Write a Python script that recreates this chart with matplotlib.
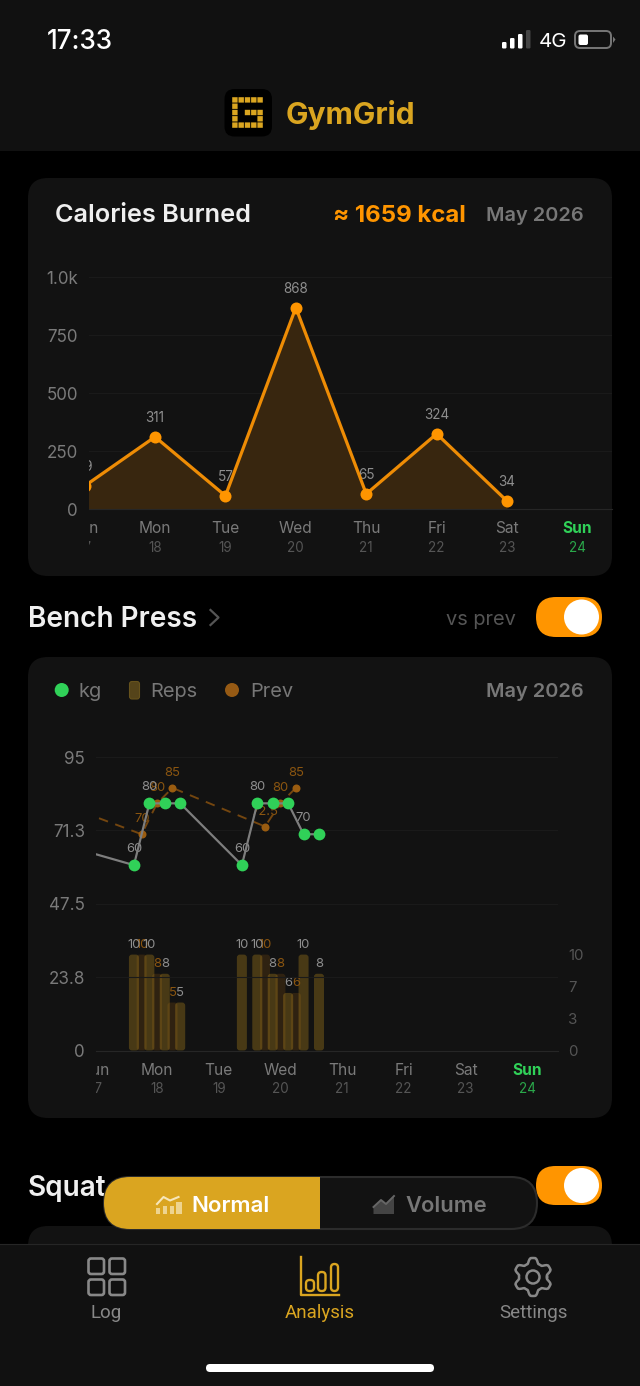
import numpy as np
import matplotlib
matplotlib.use("Agg")
import matplotlib.pyplot as plt
from matplotlib.patches import FancyBboxPatch, Rectangle, Circle, Polygon
from matplotlib.transforms import Bbox

plt.rcParams['font.family'] = ['Inter', 'DejaVu Sans']

W, H = 640, 1386
GOLD = '#DAA520'; ORANGE = '#FF9500'; GREEN = '#30D158'; CARD = '#121212'; BAR = '#111111'

# ---------- data ----------
days = ['Sun', 'Mon', 'Tue', 'Wed', 'Thu', 'Fri', 'Sat', 'Sun']
dates = ['17', '18', '19', '20', '21', '22', '23', '24']
day_idx = [0, 1, 2, 3, 4, 5, 6, 7]

cal_x = [0, 1, 2, 3, 4, 5, 6]
cal_values = [99, 311, 57, 868, 65, 324, 34]
cal_ticks = [0, 250, 500, 750, 1000]
cal_ticklabels = ['0', '250', '500', '750', '1.0k']

kg_x = [-1.125, 0.625, 0.875, 1.125, 1.375, 2.375, 2.625, 2.875, 3.125, 3.375, 3.625]
kg_values = [70, 60, 80, 80, 80, 60, 80, 80, 80, 70, 70]
kg_labels = ['70', '60', '80', '', '', '60', '80', '', '', '70', '']
reps_values = [8, 10, 10, 8, 5, 10, 10, 8, 6, 10, 8]

prev_x = [-1.25, 0.75, 1.0, 1.25, 2.75, 3.0, 3.25]
prev_values = [85, 70, 80, 85, 72.5, 80, 85]
prev_labels = ['85', '70', '80', '85', '72.5', '80', '85']
prev_reps = [8, 10, 8, 5, 10, 8, 6]

kg_ticks = [0, 23.75, 47.5, 71.25, 95]
kg_ticklabels = ['0', '23.8', '47.5', '71.3', '95']
reps_ticks = [0, 3.33, 6.67, 10]
reps_ticklabels = ['0', '3', '7', '10']

fig = plt.figure(figsize=(W / 100, H / 100), dpi=100, facecolor='#000000')

def axpx(x0, y0, x1, y1):
    return fig.add_axes([x0 / W, 1 - y1 / H, (x1 - x0) / W, (y1 - y0) / H])

ui = fig.add_axes([0, 0, 1, 1], zorder=0)
ui.set_xlim(0, W); ui.set_ylim(H, 0); ui.axis('off')

def rrect(x0, y0, x1, y1, r, fc, ec='none', lw=0, z=1, ax=ui):
    p = FancyBboxPatch((x0, y0), x1 - x0, y1 - y0, boxstyle=f'round,pad=0,rounding_size={r}',
                       fc=fc, ec=ec, lw=lw, zorder=z)
    ax.add_patch(p)
    return p

def txt(x, y, s, size, color, weight='normal', ha='left', z=6, family=None):
    return ui.text(x, y + 1.8, s, fontsize=size * 0.72, color=color, fontweight=weight, ha=ha,
                   va='center', zorder=z, family=family or ['Inter', 'DejaVu Sans'])

def toggle(y0, y1, z=3):
    rrect(536, y0, 602, y1, (y1 - y0) / 2, ORANGE, z=z)
    ui.add_patch(Circle((581.5, (y0 + y1) / 2), 17.5, fc='white', ec='none', zorder=z + 1))

# ---------- background panels ----------
ui.add_patch(Rectangle((0, 0), W, 151, fc=BAR, ec='none', zorder=0.5))
rrect(28, 178, 612, 576, 20, CARD)
rrect(28, 657, 612, 1118, 20, CARD)
rrect(28, 1226, 612, 1300, 20, CARD)

# ---------- status bar ----------
txt(47, 40, '17:33', 26, 'white', 'medium')
for x0, top, c in [(502, 42, 'white'), (510, 38, 'white'), (518, 34, 'white'), (526, 30, '#444444')]:
    rrect(x0, top, x0 + 4.5, 48.5, 1.2, c, z=3)
txt(539, 40.5, '4G', 20.5, 'white')
rrect(575, 31, 611, 48, 5, 'none', ec='#777777', lw=1.4, z=3)
rrect(578.5, 34.5, 588, 45, 2, 'white', z=3)
ui.add_patch(Polygon([(613, 36.5), (615.5, 39.5), (613, 43)], fc='#777777', ec='none', zorder=3))

# ---------- logo ----------
rrect(224.5, 89, 272, 136.5, 10, '#000000', z=2)
cells = [(c, 0) for c in range(5)] + [(c, 4) for c in range(5)] + [(0, r) for r in (1, 2, 3)] + \
        [(2, 2), (3, 2), (4, 2), (4, 3)]
for c, r in cells:
    ui.add_patch(Rectangle((232.2 + c * 6.3, 97.2 + r * 6.3), 5.4, 5.4, fc=GOLD, ec='none',
                           zorder=3, snap=False))
txt(286, 113, 'GymGrid', 30, GOLD, 'bold')

# ---------- card headers ----------
txt(55, 214, 'Calories Burned', 25.3, '#EFEFEF', 'semibold')
txt(333, 214, '≈ 1659 kcal', 24, ORANGE, 'bold')
txt(584, 214.5, 'May 2026', 20, '#777777', 'semibold', ha='right')

txt(28, 618, 'Bench Press', 28, '#F0F0F0', 'semibold')
ui.plot([210.5, 218.5, 210.5], [610, 617.5, 625], color='#555555', lw=1.6, zorder=4)
txt(446, 618.5, 'vs prev', 20, '#555555')
toggle(597, 637)

ui.add_patch(Circle((61.7, 690), 7, fc=GREEN, ec='none', zorder=3))
txt(79, 690.5, 'kg', 20, '#777777')
rrect(129.5, 681.5, 139.5, 699, 2.5, '#55441A', ec='#66521C', lw=0.8, z=3)
txt(150, 690.5, 'Reps', 20, '#777777')
ui.add_patch(Circle((232, 690), 7, fc='#965A14', ec='none', zorder=3))
txt(250, 690.5, 'Prev', 20, '#777777')
txt(584, 690.5, 'May 2026', 20, '#777777', 'semibold', ha='right')

# ---------- chart helpers ----------
def style_x(ax, clip_left, label_y_px, base_px, xlim, size_day=15.5):
    """Real tick labels for days in view; the day cut by the left edge as a clipped annotation."""
    box = Bbox([[clip_left, 0], [W, H]])
    ax.set_xticks(day_idx[1:])
    ax.set_xticklabels(days[1:])
    ax.set_xlim(*xlim)
    pad = (label_y_px - base_px - 6) * 0.72
    ax.tick_params(axis='x', length=0, pad=pad, labelsize=size_day * 0.72)
    for i, t in enumerate(ax.get_xticklabels()):
        t.set_color('#7A7A7A')
        if i == len(days) - 2:
            t.set_color(GREEN); t.set_fontweight('bold')
    lead = ax.annotate(days[0], (day_idx[0], 0), xycoords=ax.get_xaxis_transform(), xytext=(0, -pad),
                       textcoords='offset points', ha='center', va='top', fontsize=size_day * 0.72,
                       color='#7A7A7A', annotation_clip=False)
    lead.set_clip_on(True); lead.set_clip_box(box)
    return box

def dates_row(y_px, xs_fn, box):
    for i, d in enumerate(dates):
        t = ui.text(xs_fn(i), y_px, d, fontsize=13.5 * 0.72, ha='center', va='center',
                    color='#2AA84A' if i == len(dates) - 1 else '#555555', zorder=5)
        t.set_clip_box(box); t.set_clip_on(True)

def clean(ax):
    ax.patch.set_visible(False)
    for s in ax.spines.values():
        s.set_visible(False)

# ---------- calories chart ----------
a1 = axpx(89, 277, 612, 509)
clean(a1)
a1.set_ylim(0, 1000)
a1.set_yticks(cal_ticks); a1.set_yticklabels(cal_ticklabels)
a1.tick_params(axis='y', length=0, pad=11 * 0.72, labelsize=17 * 0.72, labelcolor='#7A7A7A')
a1.grid(axis='y', color='#1A1A1A', lw=0.8); a1.set_axisbelow(True)
a1.spines['bottom'].set_visible(True); a1.spines['bottom'].set_color('#262626')
box1 = style_x(a1, 89, 527, 509, (0.0625, 7.49))
dates_row(548, lambda i: 84.6 + 70.4 * i, box1)
a1.fill_between(cal_x, cal_values, 0, color='#38260F', lw=0, zorder=2)
for x, v in zip(cal_x, cal_values):
    t = a1.annotate(str(v), (x, v), xytext=(0, 19 * 0.72), textcoords='offset points', ha='center',
                    va='center', fontsize=13.5 * 0.72, color='#8E8E8E', zorder=2.5,
                    annotation_clip=False)
    t.set_clip_on(True); t.set_clip_box(box1)
a1.plot(cal_x, cal_values, color='#EE8C05', lw=3.2 * 0.72, marker='o', ms=12 * 0.72,
        mfc=ORANGE, mec=ORANGE, mew=0, zorder=3, solid_joinstyle='round')

# ---------- bench press chart ----------
a2 = axpx(96, 757, 558, 1050.5)
r2 = a2.twinx()
a2.set_zorder(2); r2.set_zorder(1)
clean(a2); clean(r2)
a2.set_ylim(0, 95)
r2.set_ylim(0, 30.6)
a2.set_yticks(kg_ticks); a2.set_yticklabels(kg_ticklabels)
a2.tick_params(axis='y', length=0, pad=11 * 0.72, labelsize=17 * 0.72, labelcolor='#7A7A7A')
r2.set_yticks(reps_ticks); r2.set_yticklabels(reps_ticklabels)
r2.tick_params(axis='y', length=0, pad=10 * 0.72, labelsize=15 * 0.72, labelcolor='#555555')
a2.grid(axis='y', color='#1A1A1A', lw=0.8)
a2.spines['bottom'].set_visible(True); a2.spines['bottom'].set_color('#262626')
box2 = style_x(a2, 96, 1069, 1050.5, (0.01, 7.5))
r2.set_xlim(0.01, 7.5)
dates_row(1089, lambda i: 95.4 + 61.67 * i, box2)

bw = 10 / 61.67
asp = 61.67 / 9.6
rad = 3 / 61.67

def bars(ax, xs, vals, color, alpha, z):
    for x, v in zip(xs, vals):
        p = FancyBboxPatch((x - bw / 2, 0), bw, v, boxstyle=f'round,pad=0,rounding_size={rad}',
                           mutation_aspect=asp, fc=color, ec='none', alpha=alpha, zorder=z)
        ax.add_patch(p)

bars(r2, prev_x, prev_reps, '#A8640F', 0.20, 2)
bars(r2, kg_x, reps_values, GOLD, 0.27, 3)

def labels(ax, xs, vals, strs, color, off, z):
    for x, v, s in zip(xs, vals, strs):
        if s:
            t = ax.annotate(s, (x, v), xytext=(0, off * 0.72), textcoords='offset points', ha='center',
                            va='center', fontsize=13 * 0.72, color=color, zorder=z,
                            annotation_clip=False)
            t.set_clip_on(True); t.set_clip_box(box2)

labels(r2, prev_x, prev_reps, [str(v) for v in prev_reps], '#8A5510', 10, 4)
labels(r2, kg_x, reps_values, [str(v) for v in reps_values], '#8E8E8E', 10, 4)
labels(a2, prev_x, prev_values, prev_labels, '#8A5510', 15, 2)
labels(a2, kg_x, kg_values, kg_labels, '#8E8E8E', 16, 2)

a2.plot(prev_x, prev_values, color='#74460F', lw=1.5 * 0.72 + 0.3, ls=(0, (5, 4)), zorder=3)
a2.plot(prev_x, prev_values, ls='none', marker='o', ms=8 * 0.72, mfc='#9A5C10', mew=0, zorder=3.2)
a2.plot(kg_x, kg_values, color='#7E7E7E', lw=2.2 * 0.72, zorder=4)
a2.plot(kg_x, kg_values, ls='none', marker='o', ms=11.8 * 0.72, mfc=GREEN, mew=0, zorder=5)

# ---------- squat row, pill ----------
txt(28, 1187, 'Squat', 28, '#F0F0F0', 'semibold', z=2)
toggle(1166, 1205)
rrect(104, 1177, 537, 1229, 26, CARD, ec='#2C2C2C', lw=1.5, z=7)
gold = rrect(104, 1177, 537, 1229, 26, GOLD, z=7.2)
gold.set_clip_path(Rectangle((104, 1170), 216, 70, transform=ui.transData))
txt(191, 1204, 'Normal', 22.3, 'white', 'semibold', z=8)
txt(405, 1204, 'Volume', 22, '#777777', 'semibold', z=8)
for x0, x1, top in [(156, 160, 1208), (163, 167, 1206), (169.5, 173.5, 1206), (176, 181.5, 1202)]:
    ui.add_patch(Rectangle((x0, top), x1 - x0, 1213.5 - top, fc='#EED48F', ec='none', zorder=8))
ui.plot([157, 163.5, 170, 178.5], [1204, 1197, 1200.5, 1197], color='#F7E6B9', lw=1.5, zorder=8)
ui.add_patch(Polygon([(373.5, 1207), (381, 1200), (386, 1204), (394, 1196), (394, 1214), (373.5, 1214)],
                     fc='#444444', ec='none', zorder=8))
ui.plot([373.5, 381, 386, 394], [1207, 1200, 1204, 1196], color='#666666', lw=1.4, zorder=8)

# ---------- tab bar ----------
ui.add_patch(Rectangle((0, 1244), W, H - 1244, fc=BAR, ec='none', zorder=6.5))
ui.plot([0, W], [1244, 1244], color='#262626', lw=0.8, zorder=6.6)
for x0, y0 in [(88.5, 1258.5), (109.5, 1258.5), (88.5, 1279.5), (109.5, 1279.5)]:
    rrect(x0, y0, x0 + 15.5, y0 + 15.5, 2.5, 'none', ec='#888888', lw=1.9, z=7)
txt(106.5, 1311, 'Log', 18.8, '#888888', ha='center', z=8, family=['Roboto'])
ui.plot([300.7, 300.7, 339], [1257, 1295, 1295], color=GOLD, lw=1.7, zorder=7)
for x0, x1, top in [(306, 314, 1280), (318, 325.5, 1272), (331, 338, 1264)]:
    rrect(x0, top, x1, 1291, 3.5, 'none', ec=GOLD, lw=1.7, z=7)
txt(320, 1311, 'Analysis', 18.8, GOLD, ha='center', z=8, family=['Roboto'])

ang = np.linspace(0, 2 * np.pi, 8 * 12 + 1)
wave = np.clip(1.6 * np.cos(6 * (ang + np.pi / 6)), -1, 1)
gr = 16.5 + 2.5 * wave
ui.plot(533 + gr * np.cos(ang), 1277 + gr * np.sin(ang), color='#888888', lw=1.8, zorder=7)
ui.add_patch(Circle((533, 1277), 6.5, fc='none', ec='#888888', lw=1.8, zorder=7))
txt(533, 1311, 'Settings', 18.8, '#888888', ha='center', z=8, family=['Roboto'])
rrect(206, 1364, 434, 1372, 4, 'white', z=8)

fig.savefig('out.png', dpi=100, facecolor='#000000')
